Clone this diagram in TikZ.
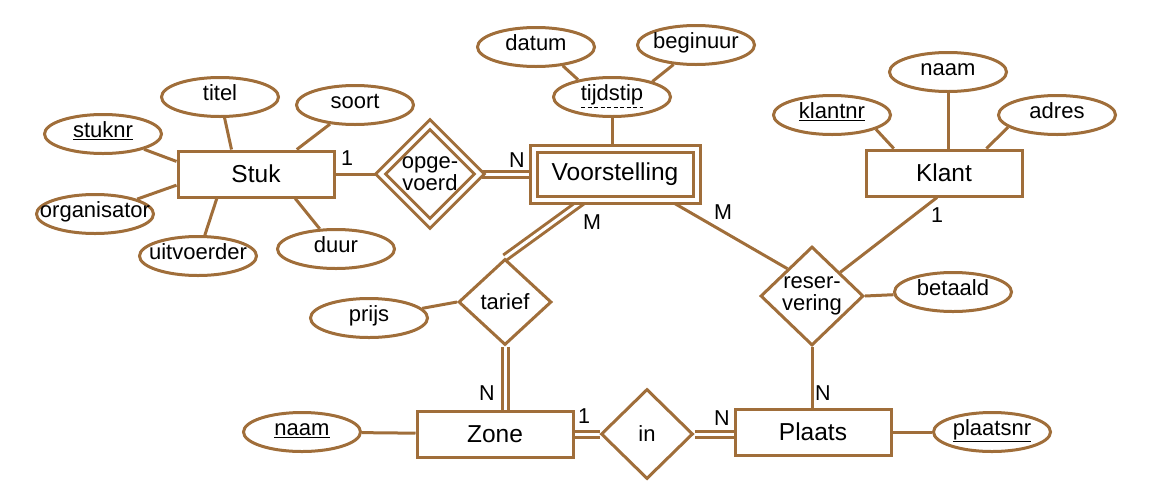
\documentclass[tikz,border=0pt]{standalone}
\usepackage{fontspec}
\setmainfont{Liberation Sans}
\usetikzlibrary{shapes.geometric,backgrounds}
\definecolor{erbrown}{RGB}{160,110,58}
\tikzstyle{every node}=[inner sep=0pt]
\tikzstyle{entity}=[draw=erbrown,line width=3pt,rectangle,minimum width=156pt,minimum height=46pt,font=\fontsize{24.5}{26}\selectfont]
\tikzstyle{weakentity}=[entity,double=white,double distance=4pt,minimum width=163pt,minimum height=51pt]
\tikzstyle{attr}=[draw=erbrown,line width=3pt,ellipse,minimum width=117pt,minimum height=39pt,inner xsep=-14pt,font=\fontsize{22}{23}\selectfont,text height=1.5ex,text depth=.25ex]
\tikzstyle{relation}=[draw=erbrown,line width=3pt,diamond,align=center,font=\fontsize{22}{22}\selectfont]
\tikzstyle{card}=[font=\fontsize{21.5}{23}\selectfont]
\tikzstyle{link}=[draw=erbrown,line width=3pt]
\tikzstyle{total}=[link,double=white,double distance=3pt]

\begin{document}
\begin{tikzpicture}[x=1pt,y=-1pt]
  \useasboundingbox (0,0) rectangle (1169,501);
  % entities
  \node[entity] (stuk) at (256,174) {Stuk};
  \node[weakentity] (voor) at (615,174) {Voorstelling};
  \node[entity] (klant) at (944,173) {Klant};
  \node[entity] (zone) at (495,434) {Zone};
  \node[entity] (plaats) at (813,432) {Plaats};
  % relations
  \node[relation,double=white,double distance=4pt,minimum width=100pt,minimum height=100pt] (opge) at (430,174) {opge-\\voerd};
  \node[relation,minimum width=93pt,minimum height=86pt] (tarief) at (505,302) {tarief};
  \node[relation,minimum width=92pt,minimum height=90pt] (in) at (647,434) {in};
  \node[relation,minimum width=103pt,minimum height=99pt] (reserv) at (812,296) {reser-\\vering};
  % attributes
  \node[attr] (titel) at (220,97) {titel};
  \node[attr] (soort) at (355,105) {soort};
  \node[attr] (stuknr) at (103,134) {\underline{stuknr}};
  \node[attr] (organ) at (95,214) {organisator};
  \node[attr] (uitv) at (198,256) {uitvoerder};
  \node[attr] (duur) at (336,249) {duur};
  \node[attr] (datum) at (536,47) {datum};
  \node[attr] (beginuur) at (696,45) {beginuur};
  \node[attr] (tijd) at (612,97) {tijdstip};
  \draw[line width=0.9pt,dash pattern=on 4pt off 2.5pt] ([xshift=-31pt,yshift=-10pt]tijd.center) -- ([xshift=31pt,yshift=-10pt]tijd.center);
  \node[attr] (klantnr) at (832,115) {\underline{klantnr}};
  \node[attr] (knaam) at (948,72) {naam};
  \node[attr] (adres) at (1057,115) {adres};
  \node[attr] (betaald) at (953,292) {betaald};
  \node[attr] (prijs) at (369,318) {prijs};
  \node[attr] (znaam) at (302,432) {\underline{naam}};
  \node[attr] (plaatsnr) at (992,432) {\underline{plaatsnr}};
  % cardinalities
  \node[card] (c1) at (347,158) {1};
  \node[card] (c2) at (517,160) {N};
  \node[card] (c3) at (592,222) {M};
  \node[card] (c4) at (723,212) {M};
  \node[card] (c5) at (937,215) {1};
  \node[card] (c6) at (487,393) {N};
  \node[card] (c7) at (584,416) {1};
  \node[card] (c8) at (722,418) {N};
  \node[card] (c9) at (823,393) {N};
  \begin{scope}[on background layer]
    % attribute lines
    \draw[link] (titel) -- (stuk.135);
    \draw[link] (soort) -- (stuk.31);
    \draw[link] (stuknr) -- (stuk.171);
    \draw[link] (organ) -- (stuk.188);
    \draw[link] (uitv) -- (stuk.212);
    \draw[link] (duur) -- (stuk.328);
    \draw[link] (datum.-35) -- (tijd.153);
    \draw[link] (beginuur.221) -- (tijd.21);
    \draw[link] (tijd) -- (tijd |- voor.north);
    \draw[link] (klantnr.-18) -- (klant.154);
    \draw[link] (knaam) -- (knaam |- klant.north);
    \draw[link] (adres.194) -- (klant.30);
    \draw[link] (reserv.east) -- (betaald);
    \draw[link] (prijs) -- (tarief.west);
    \draw[link] (znaam) -- (zone);
    \draw[link] (plaats) -- (plaatsnr);
    % relationship lines
    \draw[link] (stuk) -- (opge.west);
    \draw[total] (opge.east) -- (voor);
    \draw[total] (tarief.north) -- (voor.220);
    \draw[total] (tarief.south) -- (tarief.south |- zone.north);
    \draw[total] (zone) -- (in);
    \draw[total] (in) -- (in -| plaats.west);
    \draw[link] (reserv.132) -- (voor.334);
    \draw[link] (reserv.40) -- (klant.254);
    \draw[link] (reserv.south) -- (reserv.south |- plaats.north);
  \end{scope}
\end{tikzpicture}
\end{document}
